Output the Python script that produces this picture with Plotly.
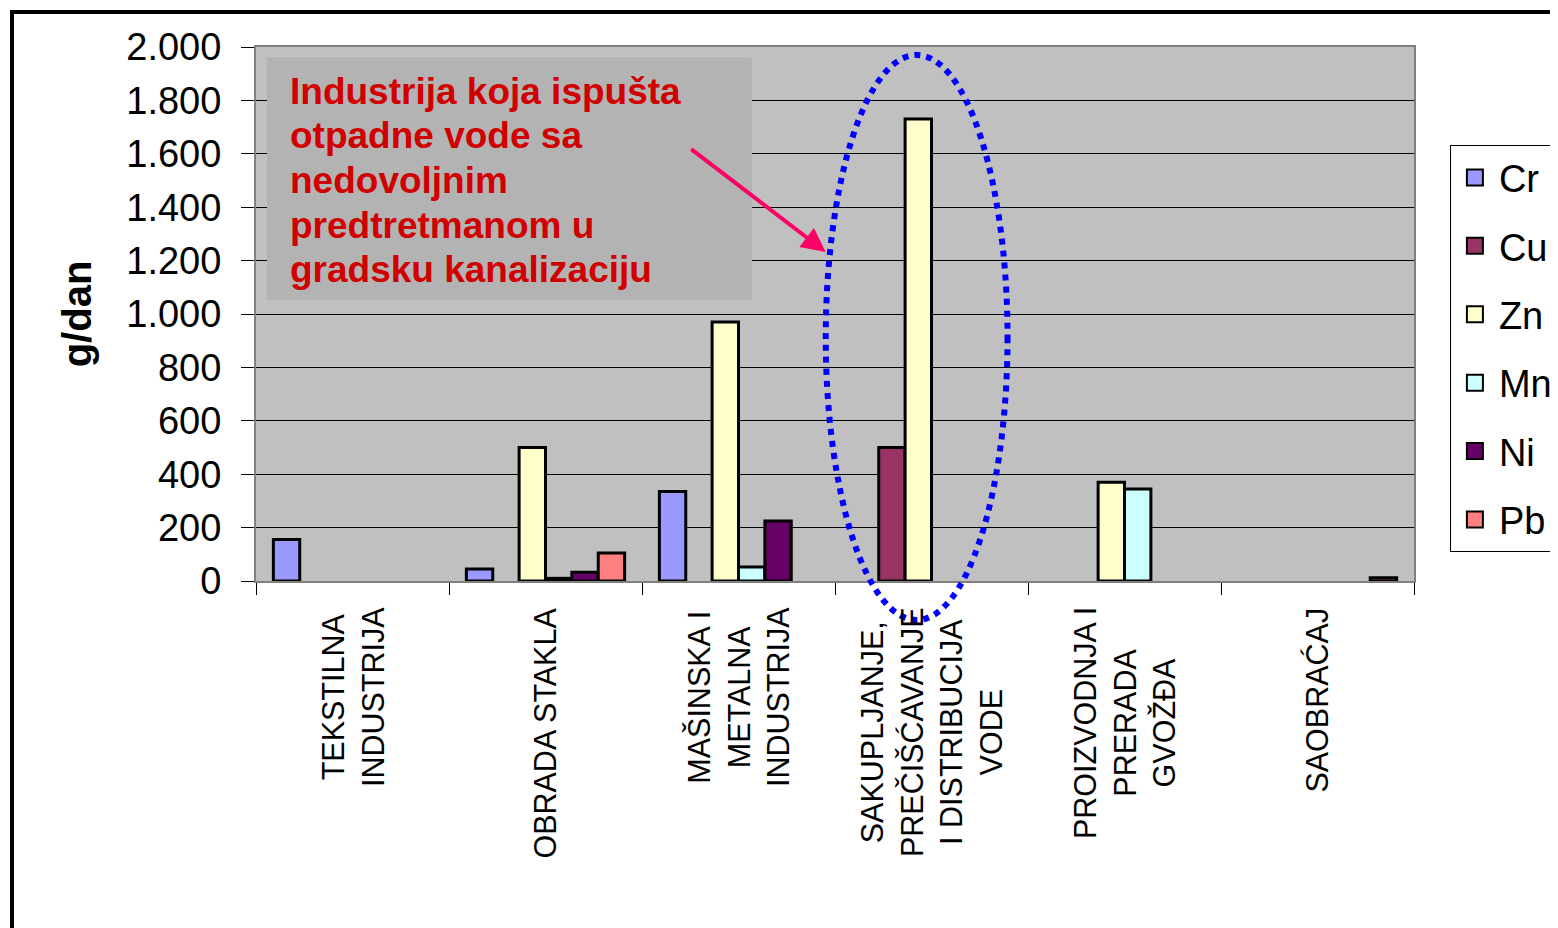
import plotly.graph_objects as go

# kategorije (x osa)
kategorije = [
    "TEKSTILNA<br>INDUSTRIJA",
    "OBRADA STAKLA",
    "MAŠINSKA I<br>METALNA<br>INDUSTRIJA",
    "SAKUPLJANJE,<br>PREČIŠĆAVANJE<br>I DISTRIBUCIJA<br>VODE",
    "PROIZVODNJA I<br>PRERADA<br>GVOŽĐA",
    "SAOBRAĆAJ",
]
ids = ["tekstil", "staklo", "masinska", "voda", "gvozdje", "saobracaj"]

# vrednosti u g/dan (procena sa slike)
cr = [155, 45, 335, None, None, None]
cu = [None, None, None, 500, None, None]
zn = [None, 500, 970, 1730, 370, None]
mn = [None, 10, 52, None, 345, None]
ni = [None, 33, 225, None, None, None]
pb = [None, 105, None, None, None, 12]

serije = [
    ("Cr", cr, "#9999ff"),
    ("Cu", cu, "#993366"),
    ("Zn", zn, "#ffffcc"),
    ("Mn", mn, "#ccffff"),
    ("Ni", ni, "#660066"),
    ("Pb", pb, "#ff8080"),
]

# tekst napomene, red po red
napomena = [
    "Industrija koja ispušta",
    "otpadne vode sa",
    "nedovoljnim",
    "predtretmanom u",
    "gradsku kanalizaciju",
]

FONT = "Arial, Liberation Sans, sans-serif"

fig = go.Figure()
for naziv, vrednosti, boja in serije:
    fig.add_trace(go.Bar(
        x=ids, y=vrednosti, name=naziv,
        marker=dict(color=boja, line=dict(color="black", width=3)),
        showlegend=False,
    ))
    # samo za legendu (veci kvadrat)
    fig.add_trace(go.Scatter(
        x=[None], y=[None], mode="markers", name=naziv, legendgroup=naziv,
        marker=dict(symbol="square", size=22, color=boja, line=dict(color="black", width=2)),
    ))

# oznake kategorija, rotirane
for kid, tekst in zip(ids, kategorije):
    fig.add_annotation(
        x=kid, xref="x", y=-0.046, yref="paper",
        text=tekst, textangle=-90, showarrow=False,
        xanchor="center", yanchor="top", align="center",
        font=dict(family=FONT, size=30.5, color="black"),
    )

# sivi okvir za tekst
fig.add_shape(
    type="rect", xref="paper", yref="paper",
    x0=0.0095, x1=0.4283, y0=0.526, y1=0.981,
    fillcolor="#b3b3b3", line=dict(width=0), layer="above",
)
for i, red in enumerate(napomena):
    fig.add_annotation(
        x=0.0276, y=0.9176 - i * 0.0838, xref="paper", yref="paper",
        xanchor="left", yanchor="middle", align="left",
        text=red, showarrow=False,
        font=dict(family=FONT, size=37, color="#d00000", weight="bold"),
    )

# strelica
fig.add_annotation(
    x=0.492, y=0.616, xref="paper", yref="paper",
    ax=-136, ay=-104, text="", showarrow=True,
    arrowhead=2, arrowsize=1.2, arrowwidth=4, arrowcolor="#ff0066",
)

# plava tackasta elipsa
fig.add_shape(
    type="circle", xref="paper", yref="paper",
    x0=0.492, x1=0.649, y0=-0.073, y1=0.985,
    line=dict(color="#0000ff", width=6, dash="dot"), layer="above",
)

# spoljni okvir
fig.add_shape(
    type="rect", xref="paper", yref="paper",
    x0=-0.2107, x1=1.2, y0=-0.8, y1=1.0655,
    line=dict(color="black", width=4),
)

fig.update_layout(
    width=1558, height=928,
    margin=dict(l=248, r=152, t=39, b=355, autoexpand=False),
    paper_bgcolor="white", plot_bgcolor="#c0c0c0",
    barmode="group", bargap=0.18, bargroupgap=0,
    separators=",.",
    font=dict(family=FONT, color="black"),
    legend=dict(
        x=1.031, y=0.816, xanchor="left", yanchor="top",
        bgcolor="white", bordercolor="black", borderwidth=1,
        font=dict(family=FONT, size=38),
        tracegroupgap=16, itemsizing="trace", itemwidth=38,
    ),
)

fig.update_xaxes(
    showticklabels=False, ticks="outside", tickson="boundaries",
    ticklen=12, tickcolor="black", tickwidth=1,
    showline=True, linecolor="#808080", linewidth=2, mirror=True,
    showgrid=False, automargin=False,
)
fig.update_yaxes(
    range=[0, 2000], dtick=200, tickformat=",",
    ticks="outside", ticklen=13, tickcolor="black",
    ticklabelstandoff=12, automargin=False,
    tickfont=dict(family=FONT, size=38),
    showline=True, linecolor="#808080", linewidth=2, mirror=True,
    gridcolor="black", gridwidth=1, zeroline=False,
    title=dict(text="<b>g/dan</b>", font=dict(family=FONT, size=40), standoff=22),
)

fig.write_html("out.html")
